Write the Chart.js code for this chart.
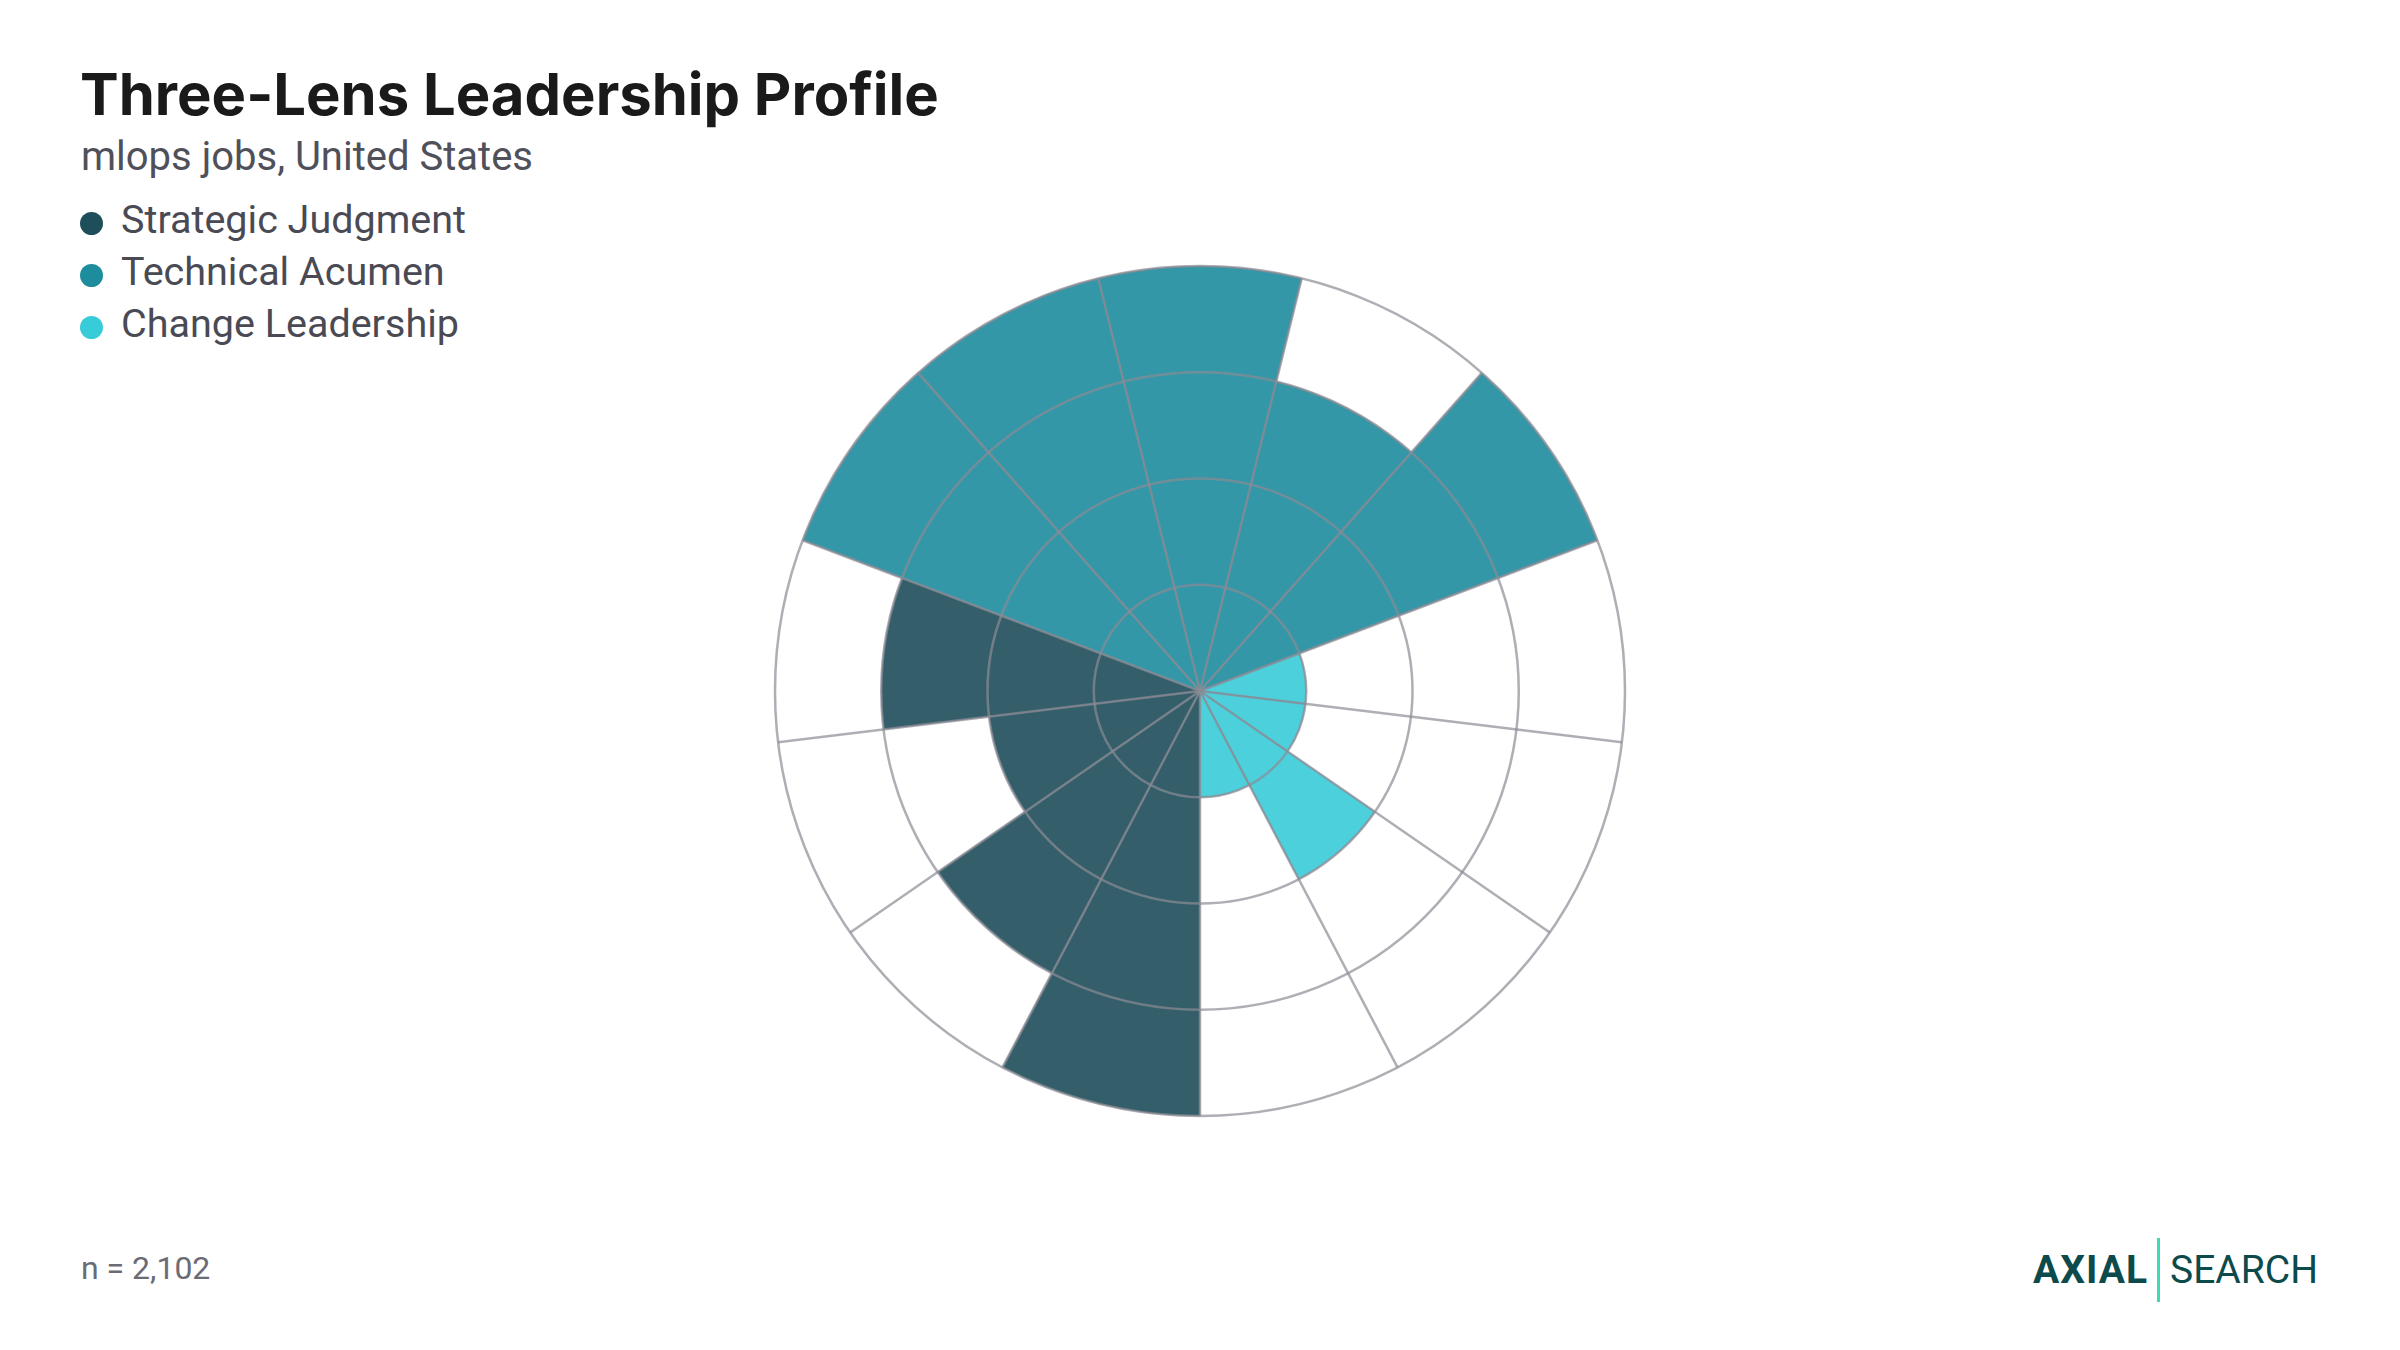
<!DOCTYPE html>
<html>
<head>
<meta charset="utf-8">
<title>Three-Lens Leadership Profile</title>
<script src="https://cdn.jsdelivr.net/npm/chart.js@4.4.1/dist/chart.umd.min.js"></script>
<style>
  html, body { margin: 0; padding: 0; background: #fff; }
  body { width: 2400px; height: 1350px; position: relative; overflow: hidden; font-family: Roboto, "Noto Sans", sans-serif; }
  #title { position: absolute; left: 80px; top: 59px; font-family: Inter, sans-serif; font-weight: 700; font-size: 58px; color: #1a1a1a; letter-spacing: 0px; margin: 0; }
  #subtitle { position: absolute; left: 81px; top: 133px; font-size: 40px; color: #50505a; }
  #legend { position: absolute; left: 80px; top: 194px; list-style: none; margin: 0; padding: 0; }
  #legend li { height: 52px; line-height: 52px; font-size: 39.5px; color: #4a4a55; display: flex; align-items: center; }
  #legend .dot { width: 23px; height: 23px; border-radius: 50%; margin-right: 18px; margin-top: 6px; }
  #chartBox { position: absolute; left: 770px; top: 261px; width: 860px; height: 860px; }
  #note { position: absolute; left: 81px; top: 1249px; font-size: 32px; color: #6b6b75; }
  #logo { position: absolute; left: 2033px; top: 1238px; height: 64px; display: flex; align-items: center; color: #0d4a4c; font-size: 39px; }
  #logo .brand { font-weight: 700; letter-spacing: 1px; }
  #logo .bar { width: 3px; height: 64px; background: #3ddbb0; margin: 0 10px 0 9px; }
</style>
</head>
<body>
<h1 id="title">Three-Lens Leadership Profile</h1>
<div id="subtitle">mlops jobs, United States</div>
<ul id="legend"></ul>
<div id="chartBox"><canvas id="grafico"></canvas></div>
<div id="note">n = 2,102</div>
<div id="logo"><span class="brand">AXIAL</span><span class="bar"></span><span>SEARCH</span></div>

<script>
// lenses, in legend order
const lenses = ["Strategic Judgment", "Technical Acumen", "Change Leadership"];
const lensColors = ["#1e4e5a", "#1d8c9d", "#38cbd8"];

// scores per lens (0-4), read clockwise starting from straight down
const strategicScores = [4, 3, 2, 3];
const technicalScores = [4, 4, 4, 3, 4];
const changeScores = [1, 1, 2, 1];

const scaleMax = 4;
const scaleStep = 1;

const grupos = [strategicScores, technicalScores, changeScores];

const labels = [];
const valores = [];
const colores = [];
grupos.forEach((scores, g) => {
  scores.forEach((v, i) => {
    labels.push(lenses[g] + " " + (i + 1));
    valores.push(v);
    colores.push(lensColors[g] + "e6");
  });
});

const legend = document.getElementById("legend");
lenses.forEach((name, i) => {
  legend.innerHTML += `<li><span class="dot" style="background:${lensColors[i]}"></span>${name}</li>`;
});

const ctx = document.getElementById("grafico").getContext("2d");
new Chart(ctx, {
  type: "polarArea",
  data: {
    labels: labels,
    datasets: [{
      data: valores,
      backgroundColor: colores,
      borderColor: "rgba(120, 120, 130, 0.5)",
      borderWidth: 1
    }]
  },
  options: {
    responsive: true,
    maintainAspectRatio: false,
    animation: false,
    layout: { padding: 5 },
    plugins: {
      legend: { display: false },
      tooltip: { enabled: false }
    },
    scales: {
      r: {
        min: 0,
        max: scaleMax,
        startAngle: 180,
        ticks: { display: false, stepSize: scaleStep },
        pointLabels: { display: false },
        grid: { circular: true, color: "rgba(140, 140, 150, 0.7)", lineWidth: 2.5, z: 1 },
        angleLines: { display: true, color: "rgba(140, 140, 150, 0.7)", lineWidth: 2.5 }
      }
    }
  }
});
</script>
</body>
</html>
